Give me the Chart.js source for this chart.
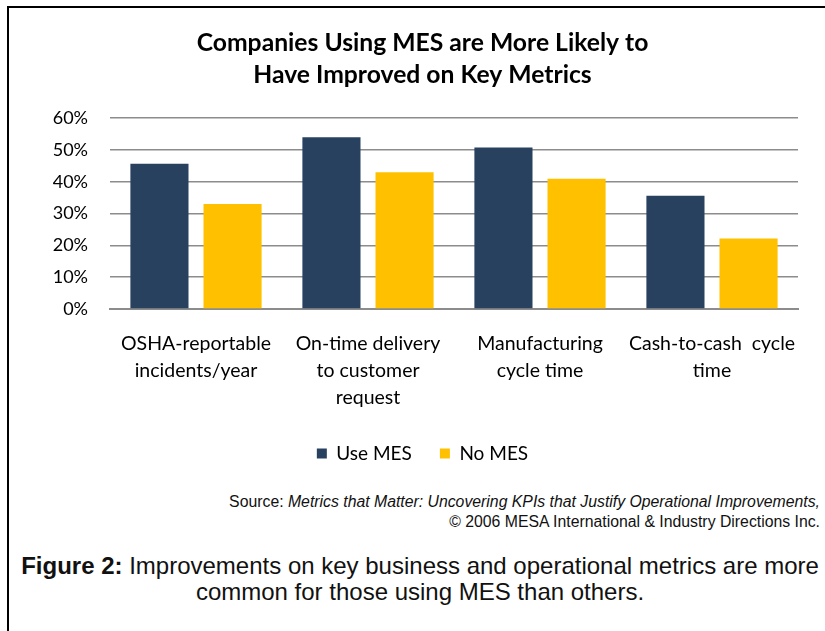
<!DOCTYPE html>
<html>
<head>
<meta charset="utf-8">
<script src="https://cdn.jsdelivr.net/npm/chart.js@4"></script>
<style>
    body { margin: 0; background: #fff; }
    .page { position: relative; width: 825px; height: 631px; overflow: hidden; background: #fff; }
    .frame { position: absolute; left: 7px; top: 6px; right: -4px; bottom: -4px;
             border-top: 2px solid #000; border-left: 2px solid #000; }
    #chart-wrap { position: absolute; left: 0; top: 0; width: 825px; height: 481px; }
    .source { position: absolute; right: 5px; top: 492px; text-align: right;
              font-family: "Liberation Sans", Arial, sans-serif; font-size: 15.8px; line-height: 20px; color: #111; }
    .source em { font-style: italic; }
    .caption { position: absolute; left: 10px; width: 820px; top: 553px; text-align: center;
               font-family: "Liberation Sans", Arial, sans-serif; font-size: 24px; line-height: 26px; color: #111; }
</style>
</head>
<body>
<div class="page">
    <div class="frame"></div>
    <div id="chart-wrap"><canvas id="metricsChart"></canvas></div>
    <div class="source">
        Source: <em>Metrics that Matter: Uncovering KPIs that Justify Operational Improvements,</em><br>
        &copy; 2006 MESA International &amp; Industry Directions Inc.
    </div>
    <div class="caption">
        <b>Figure 2:</b> Improvements on key business and operational metrics are more<br>
        common for those using MES than others.
    </div>
</div>
<script>
// Share of companies reporting improvement, in percent
const categories = [
    ['OSHA-reportable', 'incidents/year'],
    ['On-time delivery', 'to customer', 'request'],
    ['Manufacturing', 'cycle time'],
    ['Cash-to-cash  cycle', 'time']
];
const useMes = [45.7, 54, 50.8, 35.6];
const noMes = [33, 43, 41, 22.2];
const yTicks = [0, 10, 20, 30, 40, 50, 60];

const FONT = 'Lato, "Open Sans", sans-serif';
const GRID = '#8c8c8c';

const ctx = document.getElementById('metricsChart').getContext('2d');
window.metricsChart = new Chart(ctx, {
    type: 'bar',
    data: {
        labels: categories,
        datasets: [
            { label: 'Use MES', data: useMes, backgroundColor: '#27415f',
              categoryPercentage: 0.85, barPercentage: 0.795 },
            { label: 'No MES', data: noMes, backgroundColor: '#ffc000',
              categoryPercentage: 0.85, barPercentage: 0.795 }
        ]
    },
    options: {
        responsive: true,
        maintainAspectRatio: false,
        animation: false,
        layout: { padding: { left: 47, right: 27, top: 0, bottom: 8 } },
        plugins: {
            title: {
                display: true,
                text: ['Companies Using MES are More Likely to', 'Have Improved on Key Metrics'],
                color: '#000',
                font: { family: FONT, size: 24.7, weight: 'bold', lineHeight: 1.3 },
                padding: { top: 27, bottom: 27 }
            },
            legend: {
                position: 'bottom',
                labels: {
                    color: '#000',
                    boxWidth: 10,
                    boxHeight: 10,
                    padding: 28,
                    font: { family: FONT, size: 19 }
                }
            },
            tooltip: { enabled: false }
        },
        scales: {
            x: {
                grid: { display: false, drawTicks: false },
                border: { display: true, color: GRID, width: 2 },
                afterFit: axis => { axis.height -= 16; },
                ticks: {
                    color: '#000',
                    maxRotation: 0,
                    autoSkip: false,
                    padding: 21,
                    font: { family: FONT, size: 19.5, lineHeight: 1.385 }
                }
            },
            y: {
                min: 0,
                max: 60,
                afterBuildTicks: axis => { axis.ticks = yTicks.map(v => ({ value: v })); },
                afterFit: axis => { axis.width = 63; },
                grid: { color: GRID, lineWidth: 1.5, drawTicks: false },
                border: { display: false },
                ticks: {
                    color: '#000',
                    padding: 22,
                    font: { family: FONT, size: 18 },
                    callback: v => v + '%'
                }
            }
        }
    }
});
</script>
</body>
</html>
